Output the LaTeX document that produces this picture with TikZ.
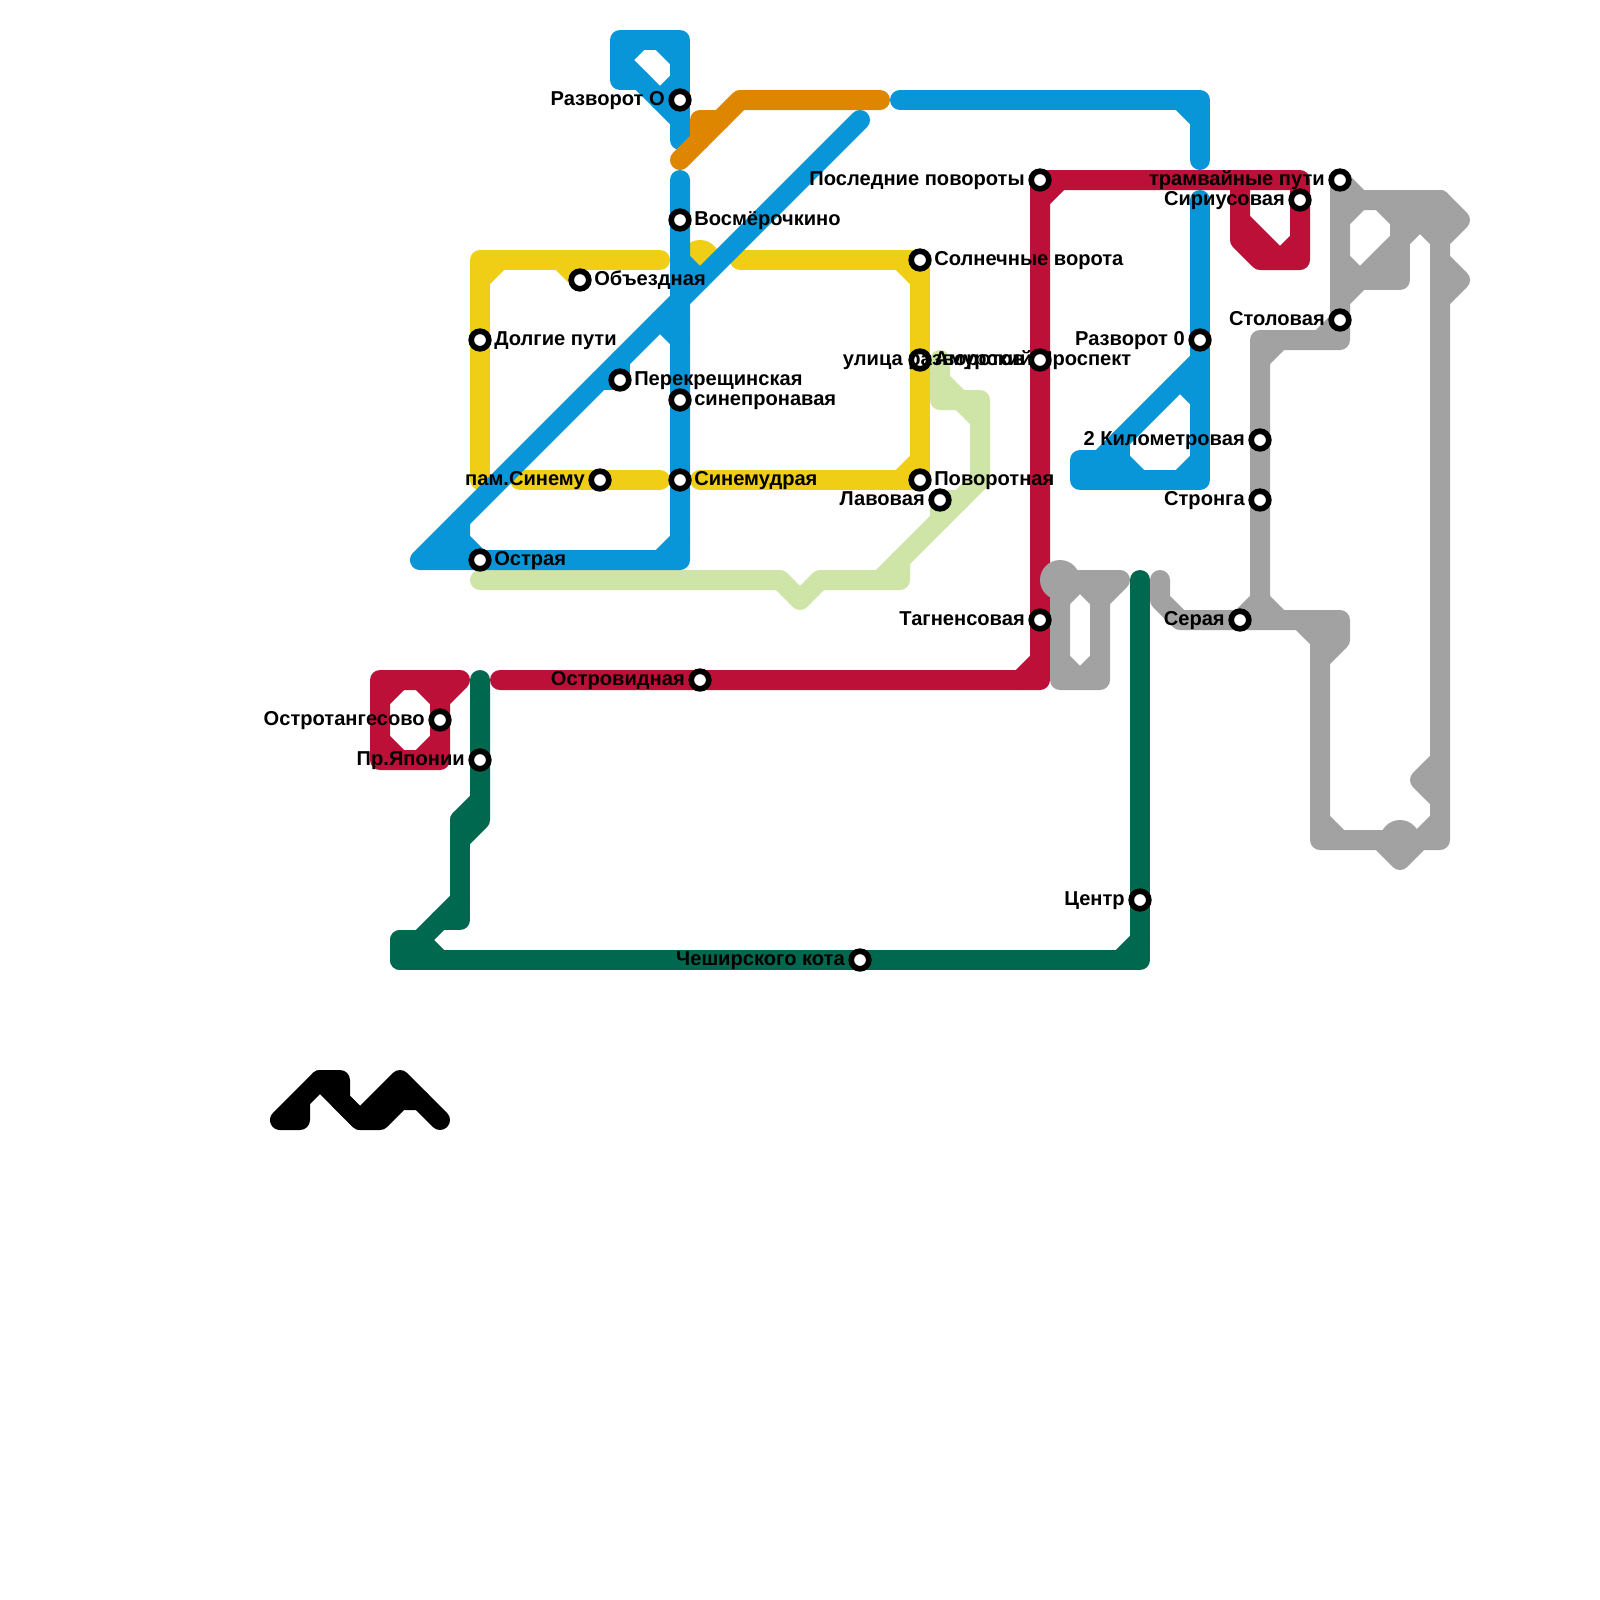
\documentclass[tikz,border=0pt]{standalone}
\usepackage{fontspec}
\setmainfont{Liberation Sans}
\usetikzlibrary{backgrounds}
\definecolor{lineblue}{HTML}{0896D8}
\definecolor{lineyellow}{HTML}{F0CE15}
\definecolor{lineorange}{HTML}{DF8600}
\definecolor{linered}{HTML}{BD1038}
\definecolor{linemint}{HTML}{CFE4A7}
\definecolor{linegray}{HTML}{A2A2A2}
\definecolor{linegreen}{HTML}{00684E}
\tikzset{
  metro/.style={line width=5mm,line cap=round,line join=round},
  blueline/.style={metro,draw=lineblue},
  yellowline/.style={metro,draw=lineyellow},
  orangeline/.style={metro,draw=lineorange},
  redline/.style={metro,draw=linered},
  mintline/.style={metro,draw=linemint},
  grayline/.style={metro,draw=linegray},
  greenline/.style={metro,draw=linegreen},
  blackline/.style={metro,draw=black},
  stn/.style={circle,draw=black,fill=white,line width=1.42mm,minimum size=4.4mm,inner sep=0pt,outer sep=0pt},
  lab/.style={font=\fontsize{14.3}{15}\selectfont\bfseries,inner sep=0pt,text height=11.4pt,text depth=3pt},
  labr/.style={lab,xshift=1.3mm},
  labl/.style={lab,xshift=-1.55mm},
}
\begin{document}
\begin{tikzpicture}[x=0.5cm,y=-0.5cm]
  \useasboundingbox (0,0) rectangle (80,80);
  \node[stn,label={[labl]left:Разворот О}] (razvO) at (34,5) {};
  \node[stn,label={[labr]right:Восмёрочкино}] (vosm) at (34,11) {};
  \node[stn,label={[labr]right:Объездная}] (obezd) at (29,14) {};
  \node[stn,label={[labr]right:Долгие пути}] (dolgie) at (24,17) {};
  \node[stn,label={[labr]right:Перекрещинская}] (perekr) at (31,19) {};
  \node[stn,label={[labr]right:синепронавая}] (sinepr) at (34,20) {};
  \node[stn,label={[labl]left:пам.Синему}] (pam) at (30,24) {};
  \node[stn,label={[labr]right:Синемудрая}] (sinem) at (34,24) {};
  \node[stn,label={[labr]right:Острая}] (ostr) at (24,28) {};
  \node[stn,label={[labr]right:Солнечные ворота}] (solnv) at (46,13) {};
  \node[stn,label={[labr]right:Амурский Проспект}] (amur) at (46,18) {};
  \node[stn,label={[labr]right:Поворотная}] (povor) at (46,24) {};
  \node[stn,label={[labl]left:Лавовая}] (lavov) at (47,25) {};
  \node[stn,label={[labl]left:Последние повороты}] (posl) at (52,9) {};
  \node[stn,label={[labl]left:улица разворотов}] (ulica) at (52,18) {};
  \node[stn,label={[labl]left:Тагненсовая}] (tagn) at (52,31) {};
  \node[stn,label={[labl]left:Разворот 0}] (razv0) at (60,17) {};
  \node[stn,label={[labl]left:2 Километровая}] (kilom) at (63,22) {};
  \node[stn,label={[labl]left:Стронга}] (stron) at (63,25) {};
  \node[stn,label={[labl]left:трамвайные пути}] (tramv) at (67,9) {};
  \node[stn,label={[labl]left:Сириусовая}] (sirius) at (65,10) {};
  \node[stn,label={[labl]left:Столовая}] (stol) at (67,16) {};
  \node[stn,label={[labl]left:Серая}] (seraya) at (62,31) {};
  \node[stn,label={[labl]left:Островидная}] (ostrov) at (35,34) {};
  \node[stn,label={[labl]left:Остротангесово}] (ostrt) at (22,36) {};
  \node[stn,label={[labl]left:Пр.Японии}] (yapon) at (24,38) {};
  \node[stn,label={[labl]left:Центр}] (centr) at (57,45) {};
  \node[stn,label={[labl]left:Чеширского кота}] (chesh) at (43,48) {};
  \begin{scope}[on background layer]
    \fill[lineyellow] (35,13) circle[radius=0.5cm];
    \draw[yellowline] (33,13) -- (24,13) -- (24,24); \draw[yellowline] (24,14) -- (25,13);
    \draw[yellowline] (28,13) -- (obezd.center);
    \draw[yellowline] (26,24) -- (pam.center) -- (33,24);
    \draw[yellowline] (37,13) -- (solnv.center) -- (amur.center) -- (povor.center) -- (35,24);
    \draw[yellowline] (45,13) -- (46,14); \draw[yellowline] (46,23) -- (45,24);
    \draw[mintline] (24,29) -- (39,29) -- (40,30) -- (41,29) -- (45,29) -- (45,28);
    \draw[mintline] (44,29) -- (49,24) -- (49,20) -- (47,20) -- (47,18);
    \draw[mintline] (47,19) -- (48,20); \draw[mintline] (48,20) -- (49,21);
    \draw[mintline] (47,26) -- (lavov.center) -- (48,25);
    \draw[redline] (25,34) -- (ostrov.center) -- (52,34) -- (tagn.center) -- (ulica.center) -- (posl.center) -- (65,9) -- (sirius.center) -- (65,13) -- (63,13) -- (62,12) -- (62,9);
    \draw[redline] (52,10) -- (53,9); \draw[redline] (51,34) -- (52,33);
    \draw[redline] (62,11) -- (64,13) -- (65,12);
    \draw[redline] (23,34) -- (19,34) -- (19,38) -- (22,38) -- (ostrt.center) -- (22,35) -- (23,34);
    \draw[redline] (19,35) -- (20,34); \draw[redline] (21,34) -- (22,35);
    \draw[redline] (19,37) -- (20,38); \draw[redline] (21,38) -- (22,37);
    \draw[greenline] (24,34) -- (yapon.center) -- (24,41) -- (23,42); \draw[greenline] (24,40) -- (23,41);
    \draw[greenline] (23,41) -- (23,46) -- (22,46); \draw[greenline] (23,45) -- (20,48);
    \draw[greenline] (20,47) -- (21,47) -- (22,48); \draw[greenline] (20,47) -- (20,48) -- (chesh.center) -- (57,48) -- (centr.center) -- (57,29);
    \draw[greenline] (56,48) -- (57,47);
    \draw[blueline] (34,7) -- (razvO.center) -- (34,2) -- (31,2) -- (31,4) -- (32,4);
    \draw[blueline] (31,3) -- (34,6); \draw[blueline] (31,3) -- (32,2); \draw[blueline] (33,2) -- (34,3); \draw[blueline] (34,4) -- (33,5);
    \draw[blueline] (45,5) -- (60,5) -- (60,8); \draw[blueline] (59,5) -- (60,6);
    \draw[blueline] (43,6) -- (21,28) -- (ostr.center) -- (34,28) -- (sinem.center) -- (sinepr.center) -- (vosm.center) -- (34,9);
    \draw[blueline] (23,26) -- (23,27) -- (ostr.center); \draw[blueline] (22,28) -- (23,27); \draw[blueline] (33,28) -- (34,27);
    \draw[blueline] (34,13) -- (35,14); \draw[blueline] (33,16) -- (34,17);
    \draw[blueline] (30,19) -- (perekr.center) -- (31,18);
    \draw[blueline] (60,10) -- (razv0.center) -- (60,24) -- (54,24) -- (54,23) -- (56,23) -- (56,22); \draw[blueline] (55,23) -- (60,18);
    \draw[blueline] (59,19) -- (60,20); \draw[blueline] (59,24) -- (60,23); \draw[blueline] (56,23) -- (57,24);
    \fill[linegray] (53,29) circle[radius=0.5cm];
    \draw[grayline] (56,29) -- (53,29) -- (53,34) -- (55,34) -- (55,30) -- (56,29);
    \draw[grayline] (53,30) -- (54,29) -- (55,30); \draw[grayline] (53,33) -- (54,34) -- (55,33);
    \draw[grayline] (58,29) -- (58,30) -- (59,31) -- (seraya.center) -- (67,31) -- (67,32) -- (66,33) -- (66,42) -- (72,42) -- (72,10);
    \draw[grayline] (seraya.center) -- (63,30) -- (64,31); \draw[grayline] (65,31) -- (66,32) -- (66,33); \draw[grayline] (66,31) -- (66,33);
    \draw[grayline] (66,41) -- (67,42); \draw[grayline] (71,42) -- (72,41);
    \fill[linegray] (70,42) circle[radius=0.5cm];
    \draw[grayline] (69,42) -- (70,43) -- (71,42);
    \draw[grayline] (72,38) -- (71,39) -- (72,40);
    \draw[grayline] (63,30) -- (stron.center) -- (kilom.center) -- (63,17) -- (67,17) -- (stol.center) -- (tramv.center) -- (68,10) -- (72,10) -- (73,11) -- (72,12);
    \draw[grayline] (72,13) -- (73,14) -- (72,15);
    \draw[grayline] (63,18) -- (64,17); \draw[grayline] (66,17) -- (67,16);
    \draw[grayline] (67,11) -- (68,10); \draw[grayline] (69,10) -- (70,11); \draw[grayline] (70,11) -- (71,10);
    \draw[grayline] (72,10) -- (67,15); \draw[grayline] (71,11) -- (72,12); \draw[grayline] (67,13) -- (68,14);
    \draw[grayline] (70,10) -- (70,14) -- (68,14); \draw[grayline] (70,13) -- (69,14);
    \draw[orangeline] (34,8) -- (37,5) -- (44,5); \draw[orangeline] (35,7) -- (35,6) -- (36,6);
    \draw[blackline] (15,55) -- (15,56) -- (14,56) -- (16,54) -- (17,54) -- (17,55) -- (18,56) -- (19,56) -- (20,55) -- (21,55);
    \draw[blackline] (16,54) -- (18,56) -- (20,54) -- (22,56);
  \end{scope}
\end{tikzpicture}
\end{document}
